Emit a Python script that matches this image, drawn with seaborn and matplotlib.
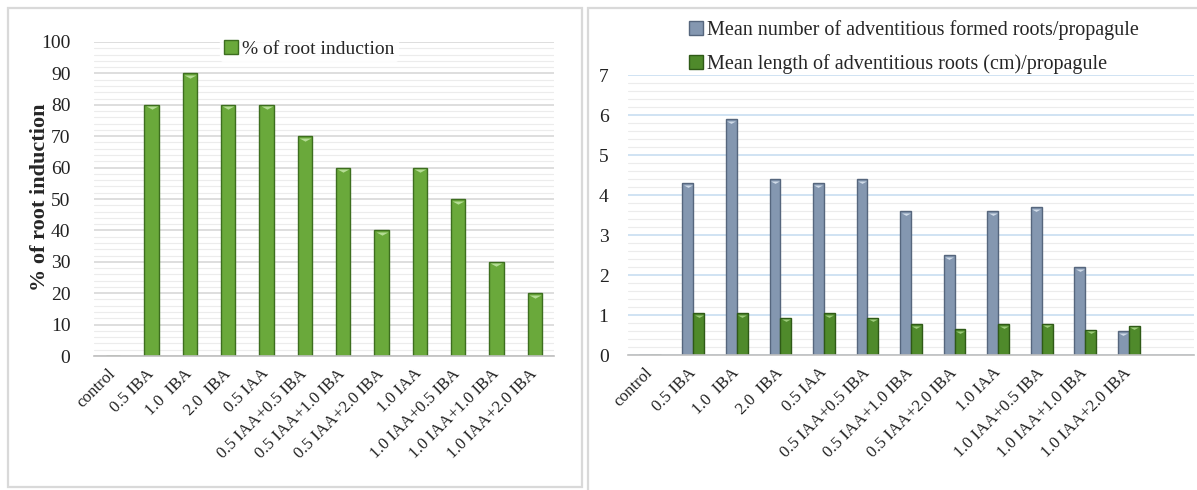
import numpy as np
import pandas as pd
import matplotlib
matplotlib.use("Agg")
import matplotlib.pyplot as plt
import seaborn as sns
from matplotlib.patches import Rectangle, Patch
from matplotlib.path import Path
from matplotlib.ticker import MultipleLocator
from matplotlib.transforms import offset_copy

# Treatments (auxin concentrations, mg/L)
treatments = ["control", "0.5 IBA", "1.0  IBA", "2.0  IBA", "0.5 IAA",
              "0.5 IAA+0.5 IBA", "0.5 IAA+1.0 IBA", "0.5 IAA+2.0 IBA",
              "1.0 IAA", "1.0 IAA+0.5 IBA", "1.0 IAA+1.0 IBA", "1.0 IAA+2.0 IBA"]

root_induction = [0, 80, 90, 80, 80, 70, 60, 40, 60, 50, 30, 20]
root_number = [0, 4.3, 5.9, 4.4, 4.3, 4.4, 3.6, 2.5, 3.6, 3.7, 2.2, 0.6]
root_length = [0, 1.05, 1.05, 0.93, 1.05, 0.93, 0.77, 0.65, 0.77, 0.78, 0.63, 0.73]

label_induction = "% of root induction"
label_number = "Mean number of adventitious formed roots/propagule"
label_length = "Mean length of adventitious roots (cm)/propagule"

sns.set_theme(style="white")
plt.rcParams["font.family"] = ["Liberation Serif", "DejaVu Serif"]

W, H = 1197, 490
fig = plt.figure(figsize=(W / 100, H / 100), dpi=100)


def fx(px):
    return px / W


def fy(py):
    return 1 - py / H


# panel frames
fig.add_artist(Rectangle((fx(8), fy(487)), fx(574), (487 - 8) / H,
                         transform=fig.transFigure, fill=False,
                         ec="#d9d9d9", lw=1.6))
fig.add_artist(Rectangle((fx(588), fy(500)), fx(620), (500 - 8) / H,
                         transform=fig.transFigure, fill=False,
                         ec="#d9d9d9", lw=1.6))

green_face, green_edge, green_light = "#6aa93b", "#3d6e1f", "#b4dc94"
dgreen_face, dgreen_edge, dgreen_light = "#4f8a2b", "#2f5a17", "#9ccb7a"
blue_face, blue_edge, blue_light = "#8497b0", "#56667d", "#d0dbe8"

# flat downward triangle used as the bevel highlight on bar tops
bevel_marker = Path([(-1, 0), (1, 0), (0, -0.55), (-1, 0)],
                    [Path.MOVETO, Path.LINETO, Path.LINETO, Path.CLOSEPOLY])


def style_axes(ax, major, minor, major_color, minor_color):
    for s in ["top", "right", "left"]:
        ax.spines[s].set_visible(False)
    ax.spines["bottom"].set_color("#bfbfbf")
    ax.spines["bottom"].set_linewidth(1.2)
    ax.yaxis.set_major_locator(MultipleLocator(major))
    ax.yaxis.set_minor_locator(MultipleLocator(minor))
    ax.grid(which="major", axis="y", color=major_color, lw=1.1)
    ax.grid(which="minor", axis="y", color=minor_color, lw=0.8)
    ax.grid(which="both", axis="x", visible=False)
    ax.set_axisbelow(True)
    ax.tick_params(which="both", length=0)
    ax.tick_params(axis="y", labelsize=14, colors="#222222")
    ax.set_xlabel("")
    for lab in ax.get_xticklabels():
        lab.set_rotation(45)
        lab.set_ha("right")
        lab.set_va("center")
        lab.set_rotation_mode("anchor")
        lab.set_fontsize(12.2)
        lab.set_color("#222222")


def bevel(ax, container, face, edge, light, size):
    xs, ys = [], []
    for bar in container:
        bar.set_facecolor(face)
        bar.set_edgecolor(edge)
        bar.set_linewidth(1.0)
        h = bar.get_height()
        if h > 0:
            xs.append(bar.get_x() + bar.get_width() / 2)
            ys.append(h)
    tr = offset_copy(ax.transData, fig=ax.figure, x=0, y=-1.2, units="points")
    ax.scatter(xs, ys, marker=bevel_marker, s=size, color=light, lw=0,
               zorder=5, transform=tr)


# left panel: % of root induction
ax1 = fig.add_axes([fx(94), fy(356), fx(554 - 94), (356 - 42) / H])
df1 = pd.DataFrame({"treatment": treatments, "value": root_induction})
sns.barplot(data=df1, x="treatment", y="value", color=green_face,
            width=0.38, ax=ax1)
bevel(ax1, ax1.containers[0], green_face, green_edge, green_light, 70)
ax1.set_ylim(0, 100)
ax1.set_xlim(-0.5, len(treatments) - 0.5)
style_axes(ax1, 10, 2, "#d4d4d4", "#ececec")
ax1.set_ylabel(label_induction, fontsize=16, fontweight="bold")
ax1.yaxis.set_label_coords(-0.095, 0.505)
ax1.tick_params(axis="y", pad=17)
ax1.tick_params(axis="x", pad=11)
leg1 = ax1.legend(handles=[Patch(facecolor=green_face, edgecolor=green_edge)],
                  labels=[label_induction], loc="upper center",
                  bbox_to_anchor=(0.468, 1.05), frameon=True, fontsize=14,
                  handlelength=0.7, handleheight=0.7, handletextpad=0.2,
                  borderpad=0.2)
leg1.get_frame().set_facecolor("white")
leg1.get_frame().set_edgecolor("white")

# right panel: number and length of roots
ax2 = fig.add_axes([fx(628), fy(355), fx(1194 - 628), (355 - 75) / H])
df2 = pd.DataFrame({
    "treatment": treatments * 2,
    "value": root_number + root_length,
    "series": [label_number] * len(treatments) + [label_length] * len(treatments),
})
sns.barplot(data=df2, x="treatment", y="value", hue="series",
            palette=[blue_face, dgreen_face], width=0.5, ax=ax2,
            legend=False)
bevel(ax2, ax2.containers[0], blue_face, blue_edge, blue_light, 40)
bevel(ax2, ax2.containers[1], dgreen_face, dgreen_edge, dgreen_light, 40)
ax2.set_ylim(0, 7)
ax2.set_xlim(-0.5, len(treatments) + 0.5)
style_axes(ax2, 1, 0.2, "#c3dbf0", "#ececec")
ax2.set_ylabel("")
ax2.tick_params(axis="y", pad=14)
ax2.tick_params(axis="x", pad=11)
handles = [Patch(facecolor=blue_face, edgecolor=blue_edge),
           Patch(facecolor=dgreen_face, edgecolor=dgreen_edge)]
fig.legend(handles=handles, labels=[label_number, label_length],
           loc="upper left", bbox_to_anchor=(fx(671), fy(2)),
           frameon=False, fontsize=14.5, handlelength=0.7, handleheight=0.7,
           handletextpad=0.2, labelspacing=0.72)

fig.savefig("out.png", dpi=100, facecolor="white")
